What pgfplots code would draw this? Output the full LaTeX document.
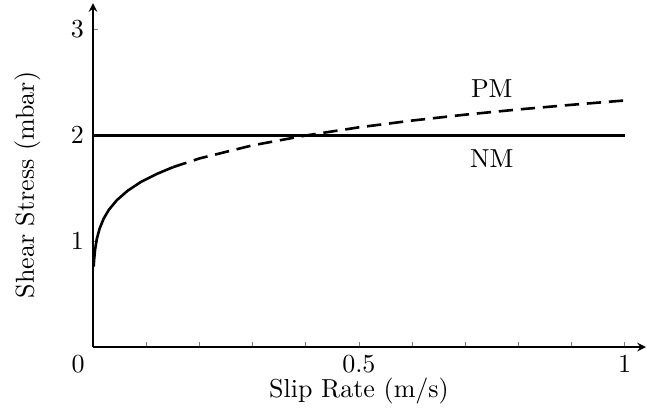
\documentclass[border=0pt]{standalone}
\usepackage{pgfplots}
\pgfplotsset{compat=1.18}
\begin{document}
\begin{tikzpicture}
\useasboundingbox (-35.8pt,-26.9pt) rectangle (213.1pt,133.5pt);
\begin{axis}[
  scale only axis,
  width=212.7pt, height=132.3pt,
  axis lines=left,
  xmin=0, xmax=1.04, ymin=0, ymax=3.25,
  xtick={0.5,1},
  minor xtick={0.1,0.2,0.3,0.4,0.6,0.7,0.8,0.9},
  ytick={1,2,3},
  tick align=inside,
  major tick length=2pt, minor tick length=2pt,
  extra x ticks={0},
  extra x tick style={major tick length=0pt, xticklabel style={xshift=-5.7pt}},
  xlabel={Slip Rate (m/s)},
  ylabel={Shear Stress (mbar)},
  xlabel style={at={(axis description cs:0.481,-0.129)}, anchor=center},
  ylabel style={at={(axis description cs:-0.119,0.471)}, anchor=center},
  axis line style={line width=0.5pt},
]
\addplot[line width=1pt, black] coordinates {
  (0.0012,0.76) (0.002,0.827) (0.004,0.928) (0.007,1.019) (0.012,1.115)
  (0.02,1.214) (0.03,1.299) (0.045,1.389) (0.065,1.477) (0.09,1.560)
  (0.12,1.636) (0.15,1.699)
};
\addplot[line width=1pt, black, dash pattern=on 5.5pt off 3pt] coordinates {
  (0.15,1.699) (0.2,1.782) (0.3,1.906) (0.4,1.999) (0.5,2.076)
  (0.6,2.140) (0.7,2.196) (0.8,2.245) (0.9,2.289) (1.0,2.33)
};
\addplot[line width=1pt, black] coordinates {(0,2) (1,2)};
\node at (axis cs:0.75,2.44) {PM};
\node at (axis cs:0.75,1.78) {NM};
\end{axis}
\end{tikzpicture}
\end{document}
